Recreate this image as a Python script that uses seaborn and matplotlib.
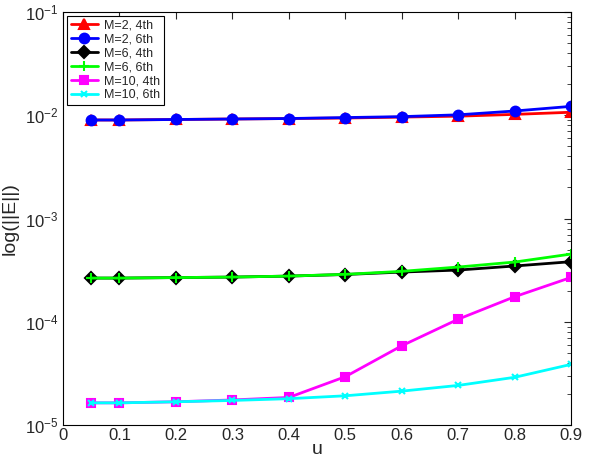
import numpy as np
import pandas as pd
import matplotlib.pyplot as plt
import seaborn as sns
from matplotlib.ticker import LogLocator, NullFormatter

plt.switch_backend('Agg')

u = [0.05, 0.1, 0.2, 0.3, 0.4, 0.5, 0.6, 0.7, 0.8, 0.9]
m2_4th = [9.0e-3, 9.0e-3, 9.1e-3, 9.2e-3, 9.3e-3, 9.4e-3, 9.6e-3, 9.8e-3, 1.02e-2, 1.07e-2]
m2_6th = [9.0e-3, 9.0e-3, 9.1e-3, 9.2e-3, 9.3e-3, 9.5e-3, 9.7e-3, 1.01e-2, 1.10e-2, 1.22e-2]
m6_4th = [2.65e-4, 2.65e-4, 2.68e-4, 2.71e-4, 2.77e-4, 2.87e-4, 3.03e-4, 3.17e-4, 3.47e-4, 3.82e-4]
m6_6th = [2.65e-4, 2.65e-4, 2.68e-4, 2.71e-4, 2.77e-4, 2.88e-4, 3.08e-4, 3.39e-4, 3.79e-4, 4.53e-4]
m10_4th = [1.64e-5, 1.64e-5, 1.68e-5, 1.75e-5, 1.85e-5, 2.94e-5, 5.86e-5, 1.06e-4, 1.75e-4, 2.69e-4]
m10_6th = [1.64e-5, 1.64e-5, 1.68e-5, 1.73e-5, 1.80e-5, 1.92e-5, 2.13e-5, 2.42e-5, 2.90e-5, 3.87e-5]

labels = ['M=2, 4th', 'M=2, 6th', 'M=6, 4th', 'M=6, 6th', 'M=10, 4th', 'M=10, 6th']
series = [m2_4th, m2_6th, m6_4th, m6_6th, m10_4th, m10_6th]
colors = ['#ff0000', '#0000ff', '#000000', '#00ff00', '#ff00ff', '#00ffff']
markers = ['^', 'o', 'D', '+', 's', 'x']
msizes = [7, 7, 6, 7, 5.5, 5]

sns.set_style('white')
plt.rcParams['font.family'] = ['Liberation Sans', 'DejaVu Sans']
plt.rcParams['mathtext.fontset'] = 'custom'
plt.rcParams['mathtext.rm'] = 'Liberation Sans'

fig = plt.figure(figsize=(6, 4.62), dpi=100)
ax = fig.add_axes([0.105, 0.08, 0.847, 0.894])

for vals, lab, c, mk, ms in zip(series, labels, colors, markers, msizes):
    df = pd.DataFrame({'u': u, 'err': vals})
    sns.lineplot(data=df, x='u', y='err', ax=ax, color=c, marker=mk,
                 markersize=ms, markeredgecolor=c, markeredgewidth=1.5,
                 linewidth=2, label=lab)

ax.set_yscale('log')
ax.set_xlim(0, 0.9)
ax.set_ylim(1e-5, 1e-1)
ax.set_xticks(np.arange(0, 0.91, 0.1))
ax.set_xticklabels(['0', '0.1', '0.2', '0.3', '0.4', '0.5', '0.6', '0.7', '0.8', '0.9'])
ax.yaxis.set_major_locator(LogLocator(base=10, numticks=10))
ax.yaxis.set_minor_locator(LogLocator(base=10, subs=np.arange(2, 10), numticks=20))
ax.yaxis.set_minor_formatter(NullFormatter())

ax.tick_params(which='both', direction='in', top=True, right=True, labelsize=12)
ax.tick_params(axis='x', pad=2)
ax.tick_params(which='major', length=5, width=0.8)
ax.tick_params(which='minor', length=3, width=0.6)
for sp in ax.spines.values():
    sp.set_color('black')
    sp.set_linewidth(0.8)

ax.set_xlabel('u', fontsize=14, labelpad=-1)
ax.set_ylabel('log(||E||)', fontsize=14, labelpad=4)

leg = ax.legend(loc='upper left', fontsize=9, fancybox=False, framealpha=1,
                edgecolor='black', handlelength=2.2, borderpad=0.3,
                labelspacing=0.15, handletextpad=0.5, borderaxespad=0.3)
leg.get_frame().set_linewidth(0.8)

plt.savefig('out.png', dpi=100)
plt.close()
